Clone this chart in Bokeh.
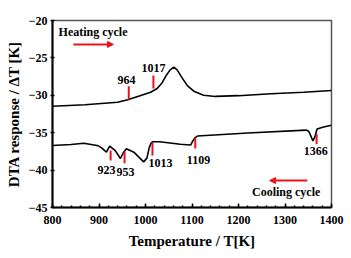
from bokeh.plotting import figure
from bokeh.models import Range1d, Arrow, NormalHead, FixedTicker
from bokeh.core.properties import value
from bokeh.embed import file_html
from bokeh.resources import INLINE

# Heating cycle (temperature K, DTA response K)
heat_T = [800, 870, 940, 962, 985, 1011, 1025, 1035, 1045, 1053, 1061, 1068, 1077,
          1090, 1105, 1125, 1150, 1200, 1270, 1340, 1400]
heat_V = [-31.46, -31.27, -30.92, -30.6, -30.12, -29.6, -29.1, -28.4, -27.3, -26.6,
          -26.24, -26.6, -27.5, -28.7, -29.5, -30.0, -30.15, -30.05, -29.8, -29.6, -29.36]

# Cooling cycle
cool_T = [800, 840, 867, 896, 905, 916, 923, 935, 946, 953, 959, 975, 988, 996, 1003,
          1008, 1012, 1016, 1030, 1075, 1097, 1101, 1106, 1112, 1220, 1345, 1351, 1356,
          1360, 1364, 1369, 1383, 1400]
cool_V = [-36.71, -36.58, -36.4, -36.7, -37.0, -37.6, -36.8, -37.4, -38.45, -37.6,
          -37.15, -37.6, -38.4, -38.9, -38.4, -37.0, -36.4, -36.2, -36.2, -36.55, -36.65,
          -36.2, -35.7, -35.45, -35.05, -34.65, -34.8, -35.5, -36.1, -35.6, -34.5,
          -34.25, -34.0]

# Transition markers
heat_mark_T = [964, 1017]
heat_mark_top = [-28.8, -27.35]
heat_mark_bot = [-30.56, -29.1]
heat_labels = ["964", "1017"]
heat_label_T = [959, 1017]
heat_label_V = [-27.9, -26.3]

cool_mark_T = [925, 955, 1015, 1107, 1368]
cool_mark_top = [-37.38, -37.51, -36.3, -35.64, -35.2]
cool_mark_bot = [-38.72, -39.1, -38.05, -37.1, -36.5]
cool_labels = ["923", "953", "1013", "1109", "1366"]
cool_label_T = [916, 957, 1032, 1114, 1366]
cool_label_V = [-40.05, -40.2, -39.1, -38.6, -37.5]

x_ticks = [800, 900, 1000, 1100, 1200, 1300, 1400]
y_ticks = [-45, -40, -35, -30, -25, -20]

FONT = "Liberation Serif"
RED = "#e8141c"

p = figure(width=351, height=258, output_backend="svg", toolbar_location=None,
           x_range=Range1d(800, 1400), y_range=Range1d(-45, -20),
           min_border_left=52, min_border_right=20, min_border_top=20, min_border_bottom=51)
p.grid.visible = False
p.outline_line_color = "#555555"
p.outline_line_width = 1.5
p.background_fill_color = "white"
p.border_fill_color = "white"

p.line(heat_T, heat_V, color="black", line_width=1.6)
p.line(cool_T, cool_V, color="black", line_width=1.6)

p.segment(x0=heat_mark_T, y0=heat_mark_top, x1=heat_mark_T, y1=heat_mark_bot,
          color=RED, line_width=2)
p.segment(x0=cool_mark_T, y0=cool_mark_top, x1=cool_mark_T, y1=cool_mark_bot,
          color=RED, line_width=2)

p.text(x=heat_label_T, y=heat_label_V, text=heat_labels, text_font=value(FONT),
       text_font_style="bold", text_font_size="12px", text_align="center",
       text_baseline="middle", color="black")
p.text(x=cool_label_T, y=cool_label_V, text=cool_labels, text_font=value(FONT),
       text_font_style="bold", text_font_size="12px", text_align="center",
       text_baseline="middle", color="black")

# cycle captions and arrows
p.text(x=[813], y=[-21.6], text=["Heating cycle"], text_font=value(FONT),
       text_font_style="bold", text_font_size="12px", text_align="left",
       text_baseline="middle", color="black")
p.text(x=[1376], y=[-42.9], text=["Cooling cycle"], text_font=value(FONT),
       text_font_style="bold", text_font_size="12px", text_align="right",
       text_baseline="middle", color="black")
p.add_layout(Arrow(end=NormalHead(size=6, fill_color=RED, line_color=RED),
                   x_start=845, y_start=-23.2, x_end=931, y_end=-23.2,
                   line_color=RED, line_width=2))
p.add_layout(Arrow(end=NormalHead(size=6, fill_color=RED, line_color=RED),
                   x_start=1348, y_start=-41.4, x_end=1267, y_end=-41.4,
                   line_color=RED, line_width=2))

for ax in (p.xaxis[0], p.yaxis[0]):
    ax.axis_line_color = "black"
    ax.axis_line_width = 2
    ax.major_tick_line_color = "black"
    ax.major_tick_line_width = 1.5
    ax.minor_tick_line_color = "black"
    ax.minor_tick_line_width = 1.5
    ax.major_label_text_font = FONT
    ax.major_label_text_font_style = "bold"
    ax.major_label_text_font_size = "12px"
    ax.major_label_text_color = "black"
    ax.axis_label_text_font = FONT
    ax.axis_label_text_font_style = "bold"
    ax.axis_label_text_font_size = "15px"
    ax.axis_label_text_color = "black"

p.xaxis.ticker = FixedTicker(ticks=x_ticks, minor_ticks=list(range(800, 1401, 20)))
p.xaxis.major_tick_in = 4
p.xaxis.major_tick_out = 0
p.xaxis.minor_tick_in = 2
p.xaxis.minor_tick_out = 0
p.xaxis.major_label_standoff = 8
p.xaxis.axis_label = "Temperature / T[K]"
p.xaxis.axis_label_standoff = 6

p.yaxis.ticker = FixedTicker(ticks=y_ticks)
p.yaxis.major_tick_in = 2
p.yaxis.major_tick_out = 2
p.yaxis.minor_tick_line_color = None
p.yaxis.major_label_standoff = 3
p.yaxis.axis_label = "DTA response / \u0394T [K]"
p.yaxis.axis_label_standoff = 4

open("out.html", "w").write(file_html(p, INLINE))
